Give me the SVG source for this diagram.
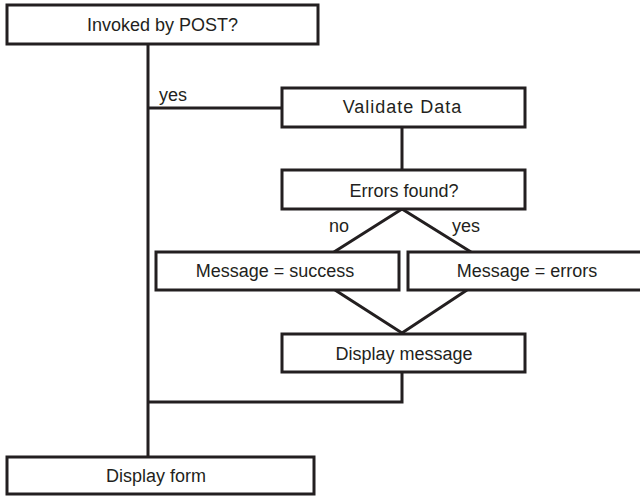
<svg xmlns="http://www.w3.org/2000/svg" width="640" height="496" viewBox="0 0 640 496">
<style>
.box{fill:#fff;stroke:#231f20;stroke-width:3}
.ln{fill:none;stroke:#231f20;stroke-width:3}
text{font-family:"Liberation Sans",Arial,sans-serif;font-size:18px;fill:#231f20;text-anchor:middle}
.lbl{text-anchor:start}
</style>
<rect width="640" height="496" fill="#fff"/>
<g id="connectors">
<path class="ln" d="M148 44V457"/>
<path class="ln" d="M148 108H282"/>
<path class="ln" d="M402 127V170"/>
<path class="ln" d="M334 252L402 209L471 252"/>
<path class="ln" d="M335 290L402 333L467 290"/>
<path class="ln" d="M402 372V402H148"/>
<text class="lbl" x="159" y="101">yes</text>
<text class="lbl" x="329" y="232">no</text>
<text class="lbl" x="452" y="232">yes</text>
</g>
<g id="invoked">
<rect class="box" x="7" y="5" width="311" height="39"/>
<text x="162.5" y="31">Invoked by POST?</text>
</g>
<g id="validate">
<rect class="box" x="282" y="88" width="243" height="39"/>
<text x="402.5" y="113" style="letter-spacing:1px">Validate Data</text>
</g>
<g id="errors">
<rect class="box" x="282" y="170" width="243" height="39"/>
<text x="404" y="197">Errors found?</text>
</g>
<g id="success">
<rect class="box" x="156" y="252" width="243" height="38"/>
<text x="275" y="277">Message = success</text>
</g>
<g id="msgerrors">
<rect class="box" x="408" y="252" width="240" height="38"/>
<text x="527" y="277">Message = errors</text>
</g>
<g id="display-message">
<rect class="box" x="282" y="334" width="243" height="38"/>
<text x="404" y="360">Display message</text>
</g>
<g id="display-form">
<rect class="box" x="7" y="457" width="307" height="37"/>
<text x="156" y="482">Display form</text>
</g>
</svg>
